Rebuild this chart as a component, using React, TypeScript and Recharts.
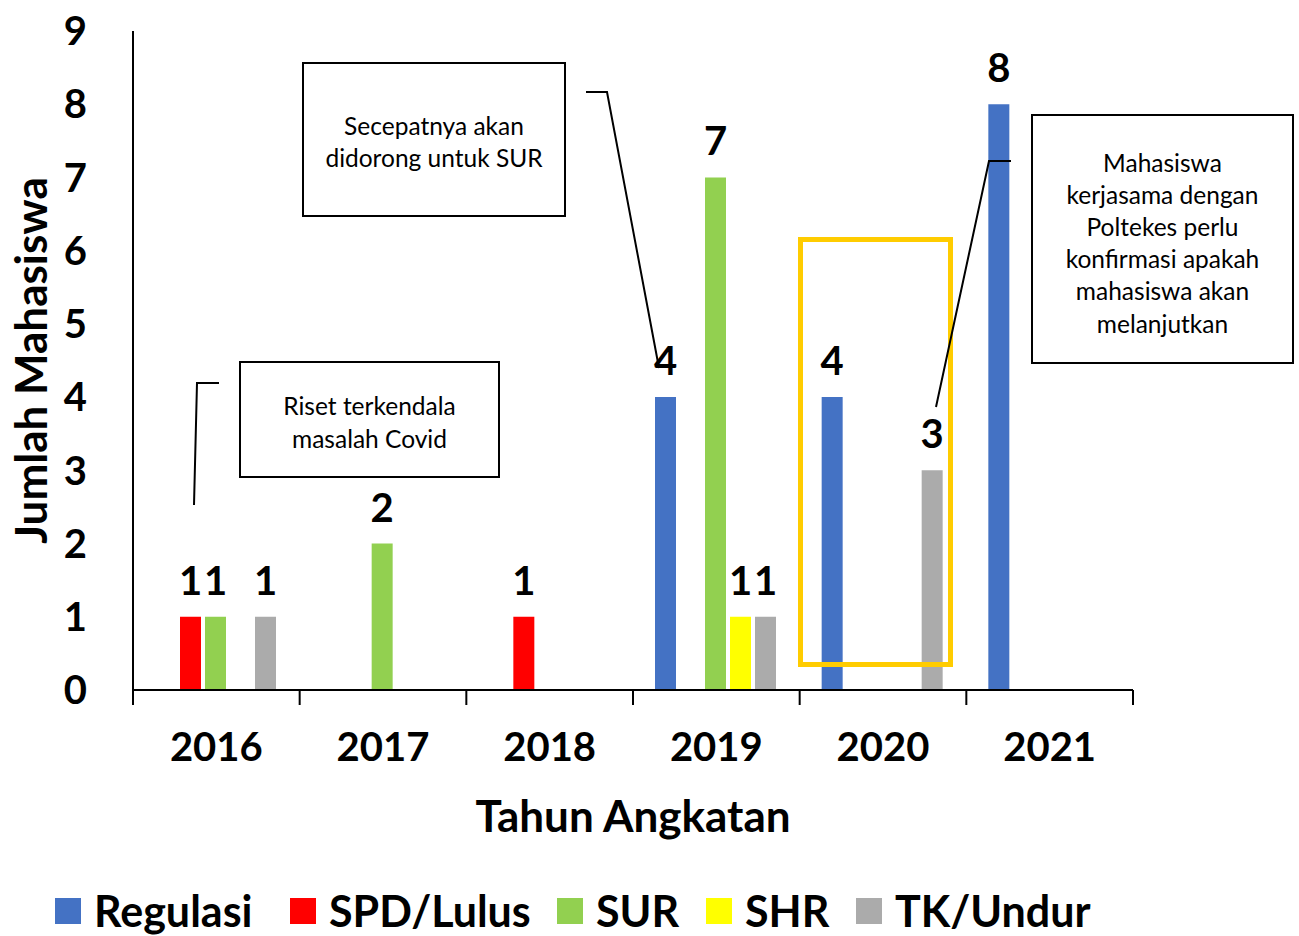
import React from 'react'
import { BarChart, Bar, XAxis, YAxis, Legend, LabelList, Label } from 'recharts'

const years = ['2016', '2017', '2018', '2019', '2020', '2021']
const regulasi = [0, 0, 0, 4, 4, 8]
const spdLulus = [1, 0, 1, 0, 0, 0]
const sur = [1, 2, 0, 7, 0, 0]
const shr = [0, 0, 0, 1, 0, 0]
const tkUndur = [1, 0, 0, 1, 3, 0]
const yTicks = [0, 1, 2, 3, 4, 5, 6, 7, 8, 9]
// boundaries between the year groups, used for the x tick marks
const groupEdges = [0, 1, 2, 3, 4, 5, 6]

const FONT = 'Lato, "Open Sans", sans-serif'

const SERIES = [
  { key: 'regulasi', name: 'Regulasi', color: '#4472C4' },
  { key: 'spdLulus', name: 'SPD/Lulus', color: '#FF0000' },
  { key: 'sur', name: 'SUR', color: '#92D050' },
  { key: 'shr', name: 'SHR', color: '#FFFF00' },
  { key: 'tkUndur', name: 'TK/Undur', color: '#ABABAB' },
]
// legend slot widths (square to next square), like the Excel legend
const legendSlots = [235, 267, 149, 150, 240]

const data = years.map((year, i) => ({
  year,
  slot: i + 0.5,
  regulasi: regulasi[i],
  spdLulus: spdLulus[i],
  sur: sur[i],
  shr: shr[i],
  tkUndur: tkUndur[i],
}))

function LegendContent() {
  return (
    <div
      style={{
        display: 'flex',
        alignItems: 'center',
        height: 60,
        paddingLeft: 55,
        paddingTop: 10,
        boxSizing: 'border-box',
        fontFamily: FONT,
        fontWeight: 700,
        fontSize: 43,
        color: '#000',
        whiteSpace: 'nowrap',
      }}
    >
      {SERIES.map((s, i) => (
        <div key={s.key} style={{ display: 'flex', alignItems: 'center', width: legendSlots[i], flex: 'none' }}>
          <span style={{ width: 26, height: 26, background: s.color, marginRight: 13, flex: 'none' }} />
          <span style={{ lineHeight: '44px' }}>{s.name}</span>
        </div>
      ))}
    </div>
  )
}

function NoteBox({ x, y, w, h, lines, cy, step }: { x: number; y: number; w: number; h: number; lines: string[]; cy: number; step: number }) {
  return (
    <g>
      <rect x={x} y={y} width={w} height={h} fill="#fff" stroke="#000" strokeWidth={2} />
      {lines.map((t, i) => (
        <text
          key={i}
          x={x + w / 2}
          y={cy + i * step}
          textAnchor="middle"
          dominantBaseline="central"
          fontFamily={FONT}
          fontSize={24.5}
          fill="#000"
        >
          {t}
        </text>
      ))}
    </g>
  )
}

export default function App() {
  const axisStroke = '#000'
  return (
    <div style={{ position: 'absolute', left: 0, top: 0, width: 1299, height: 936, background: '#fff' }}>
      <BarChart
        width={1299}
        height={936}
        data={data}
        margin={{ top: 31, right: 166, left: 0, bottom: 0 }}
        barCategoryGap={22}
        barGap={4}
      >
        <XAxis
          xAxisId={0}
          type="number"
          dataKey="slot"
          domain={[0, 6]}
          ticks={groupEdges}
          allowDataOverflow
          interval={0}
          tick={() => <g />}
          tickSize={15}
          axisLine={{ stroke: axisStroke, strokeWidth: 2 }}
          tickLine={{ stroke: axisStroke, strokeWidth: 2 }}
          height={1}
        />
        <XAxis
          xAxisId={1}
          dataKey="year"
          interval={0}
          height={185}
          tickLine={false}
          tickSize={15}
          tickMargin={27}
          axisLine={false}
          tick={{ fontFamily: FONT, fontSize: 40, fontWeight: 700, fill: '#000' }}
        >
          <Label
            value="Tahun Angkatan"
            position="insideTop"
            offset={110}
            style={{ fontFamily: FONT, fontSize: 44, fontWeight: 700, fill: '#000' }}
          />
        </XAxis>
        <YAxis
          width={133}
          domain={[0, 9]}
          ticks={yTicks}
          interval={0}
          tickLine={false}
          tickMargin={40}
          axisLine={{ stroke: axisStroke, strokeWidth: 2 }}
          tick={{ fontFamily: FONT, fontSize: 40, fontWeight: 700, fill: '#000' }}
        >
          <Label
            value="Jumlah Mahasiswa"
            angle={-90}
            position="insideLeft"
            offset={31}
            style={{ textAnchor: 'middle', fontFamily: FONT, fontSize: 44, fontWeight: 700, fill: '#000' }}
          />
        </YAxis>
        <Legend verticalAlign="bottom" height={60} content={LegendContent} wrapperStyle={{ left: 0, width: 1299 }} />
        {SERIES.map((s) => (
          <Bar key={s.key} xAxisId={1} dataKey={s.key} name={s.name} fill={s.color} isAnimationActive={false}>
            <LabelList
              dataKey={s.key}
              position="top"
              offset={22}
              formatter={(v: any) => (v ? v : '')}
              style={{ fontFamily: FONT, fontSize: 40, fontWeight: 700, fill: '#000' }}
            />
          </Bar>
        ))}
      </BarChart>
      <svg
        width={1299}
        height={936}
        style={{ position: 'absolute', left: 0, top: 0, pointerEvents: 'none' }}
      >
        <rect x={800.5} y={239.5} width={150} height={425} fill="none" stroke="#FFCC00" strokeWidth={5} />
        <polyline points="219,383 197,383 194,505" fill="none" stroke="#000" strokeWidth={2} />
        <polyline points="586,92 607,92 659,368" fill="none" stroke="#000" strokeWidth={2} />
        <polyline points="1011,161 989,161 936,407" fill="none" stroke="#000" strokeWidth={2} />
        <NoteBox x={240} y={362} w={259} h={115} lines={['Riset terkendala', 'masalah Covid']} cy={405} step={33} />
        <NoteBox x={303} y={63} w={262} h={153} lines={['Secepatnya akan', 'didorong untuk SUR']} cy={125} step={32} />
        <NoteBox
          x={1032}
          y={115}
          w={261}
          h={248}
          lines={['Mahasiswa', 'kerjasama dengan', 'Poltekes perlu', 'konfirmasi apakah', 'mahasiswa akan', 'melanjutkan']}
          cy={162}
          step={32.2}
        />
      </svg>
    </div>
  )
}
